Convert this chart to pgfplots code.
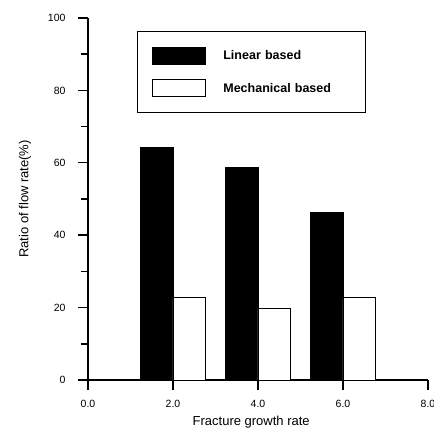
\documentclass[border=0pt]{standalone}
\usepackage{pgfplots}
\pgfplotsset{compat=1.18}
\usepackage{fontspec}
\setmainfont{Liberation Sans}
\begin{document}
\begin{tikzpicture}
\begin{axis}[
  scale only axis,
  width=340pt, height=362pt,
  xmin=0, xmax=8, ymin=0, ymax=100,
  axis x line*=bottom, axis y line*=left,
  axis line style={line width=1.6pt},
  xtick={0,2,4,6,8},
  ytick={0,20,40,60,80,100},
  minor ytick={10,30,50,70,90},
  tick align=outside,
  major tick length=10pt, minor tick length=7pt,
  every tick/.style={line width=1.4pt, black},
  /pgf/number format/assume math mode=true,
  xticklabel style={/pgf/number format/.cd, fixed, fixed zerofill, precision=1, /tikz/.cd, yshift=-7pt},
  yticklabel style={/pgf/number format/.cd, fixed, precision=0, /tikz/.cd, xshift=-9pt},
  tick label style={font=\fontsize{10.5}{12}\selectfont},
  xlabel={Fracture growth rate},
  xlabel style={font=\fontsize{13}{15}\selectfont, at={(axis description cs:0.48,-0.116)}, anchor=center},
  legend style={draw=black, line width=1.2pt, at={(0.144,0.964)}, anchor=north west,
    font=\fontsize{12.5}{15}\selectfont\bfseries,
    inner xsep=14pt, inner ysep=15pt, row sep=15pt,
    /tikz/every odd column/.append style={column sep=16pt},
    /tikz/every even column/.append style={text width=126pt}},
  legend cell align=left,
  legend image code/.code={\draw[#1, line width=0.8pt] (0pt,-8pt) rectangle (53pt,9pt);},
  clip=false,
]
\addplot[ybar, bar width=0.76, bar shift=-0.38, fill=black, draw=black, line width=0.6pt]
  coordinates {(2,64.2) (4,58.7) (6,46.3)};
\addlegendentry{Linear based}
\addplot[ybar, bar width=0.76, bar shift=0.38, fill=white, draw=black, line width=0.8pt]
  coordinates {(2,22.8) (4,19.8) (6,22.7)};
\addlegendentry{Mechanical based}
\node[rotate=90, font=\fontsize{13}{15}\selectfont] at (rel axis cs:-0.185,0.5) {Ratio of flow rate(\%)};
\end{axis}
\pgfresetboundingbox
\path (-88pt,-54pt) rectangle (346pt,380pt);
\end{tikzpicture}
\end{document}
